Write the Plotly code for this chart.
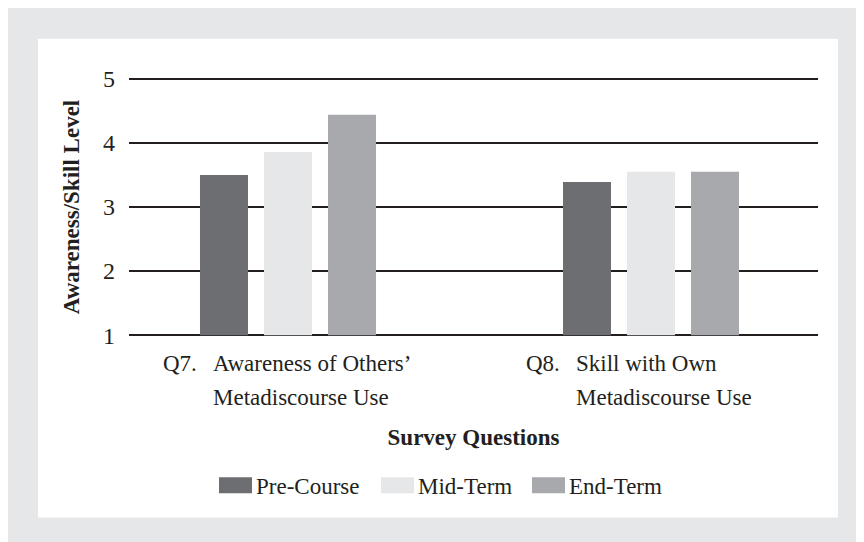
import plotly.graph_objects as go

# ---- data ----
question_ids = ["Q7.", "Q8."]
question_line1 = ["Awareness of Others’", "Skill with Own"]
question_line2 = ["Metadiscourse Use", "Metadiscourse Use"]
series_names = ["Pre-Course", "Mid-Term", "End-Term"]
pre_course = [3.5, 3.39]
mid_term = [3.86, 3.55]
end_term = [4.44, 3.55]
series_values = [pre_course, mid_term, end_term]
series_colors = ["#6d6e71", "#e6e7e8", "#a7a9ac"]
y_ticks = [1, 2, 3, 4, 5]

# ---- layout geometry (figure pixels; page is offset by the 8px body margin) ----
OFF = 8
W, H = 864 - OFF, 542 - OFF
EPS = 0.06  # small range padding so the 1 and 5 gridlines are drawn
PL, PR = 129 - OFF, 818 - OFF
PT, PB = 79 - OFF - 64 * EPS, 335 - OFF + 64 * EPS
FONT = "Liberation Serif, Times New Roman, serif"
TXT = "#231f20"


def px_x(p):
    return (p - OFF - PL) / (PR - PL)


def px_y(p):
    return (PB - (p - OFF)) / (PB - PT)


fig = go.Figure()
for name, vals, col in zip(series_names, series_values, series_colors):
    fig.add_trace(go.Bar(
        x=question_ids, y=[v - 1 for v in vals], base=1, name=name,
        marker=dict(color=col, line=dict(width=0)),
        showlegend=False,
        hovertemplate=name + ": %{customdata}<extra></extra>",
        customdata=vals,
    ))

shapes = [
    dict(type="rect", xref="paper", yref="paper", layer="below",
         x0=px_x(0), x1=px_x(880), y0=px_y(560), y1=px_y(0),
         fillcolor="#e6e7e8", line=dict(width=0)),
    dict(type="rect", xref="paper", yref="paper", layer="below",
         x0=px_x(38), x1=px_x(838), y0=px_y(517), y1=px_y(39),
         fillcolor="white", line=dict(width=0)),
]

annotations = []
# category labels (hanging indent)
for qid, l1, l2 in zip(question_ids, question_line1, question_line2):
    annotations.append(dict(x=qid, xref="x", y=1, yref="y", text=qid,
                            showarrow=False, xanchor="right", yanchor="middle",
                            xshift=-89, yshift=-28,
                            font=dict(family=FONT, size=23, color=TXT)))
    annotations.append(dict(x=qid, xref="x", y=1, yref="y", text=l1,
                            showarrow=False, xanchor="left", yanchor="middle",
                            xshift=-77, yshift=-28,
                            font=dict(family=FONT, size=23, color=TXT)))
    annotations.append(dict(x=qid, xref="x", y=1, yref="y", text=l2,
                            showarrow=False, xanchor="left", yanchor="middle",
                            xshift=-77, yshift=-62,
                            font=dict(family=FONT, size=23, color=TXT)))

# custom legend
leg_sw_left = [219, 381, 532]
for name, col, lx in zip(series_names, series_colors, leg_sw_left):
    shapes.append(dict(type="rect", xref="paper", yref="paper",
                       x0=px_x(lx), x1=px_x(lx + 33), y0=px_y(493), y1=px_y(477),
                       fillcolor=col, line=dict(width=0)))
    annotations.append(dict(x=px_x(lx + 35), xref="paper", y=px_y(486), yref="paper",
                            text=name, showarrow=False, xanchor="left", yanchor="middle",
                            font=dict(family=FONT, size=23, color=TXT)))

fig.update_layout(
    width=W, height=H,
    margin=dict(l=PL, r=W - PR, t=PT, b=H - PB, pad=0),
    paper_bgcolor="white",
    plot_bgcolor="rgba(0,0,0,0)",
    barmode="group",
    bargap=0.471,
    bargroupgap=0.25,
    font=dict(family=FONT, size=23, color=TXT),
    shapes=shapes,
    annotations=annotations,
    xaxis=dict(
        type="category", range=[-0.438, 1.46],
        showticklabels=False, showgrid=False, zeroline=False, showline=False,
        ticks="",
        title=dict(text="<b>Survey Questions</b>", standoff=89,
                   font=dict(family=FONT, size=23, color=TXT)),
    ),
    yaxis=dict(
        range=[1 - EPS, 5 + EPS], tickvals=y_ticks, showgrid=True, gridcolor=TXT,
        gridwidth=1.5, zeroline=False, showline=False, ticks="", ticklabelstandoff=13,
        tickfont=dict(family=FONT, size=24, color=TXT),
        title=dict(text="<b>Awareness/Skill Level</b>", standoff=16,
                   font=dict(family=FONT, size=23, color=TXT)),
    ),
)

fig.write_html("out.html")
